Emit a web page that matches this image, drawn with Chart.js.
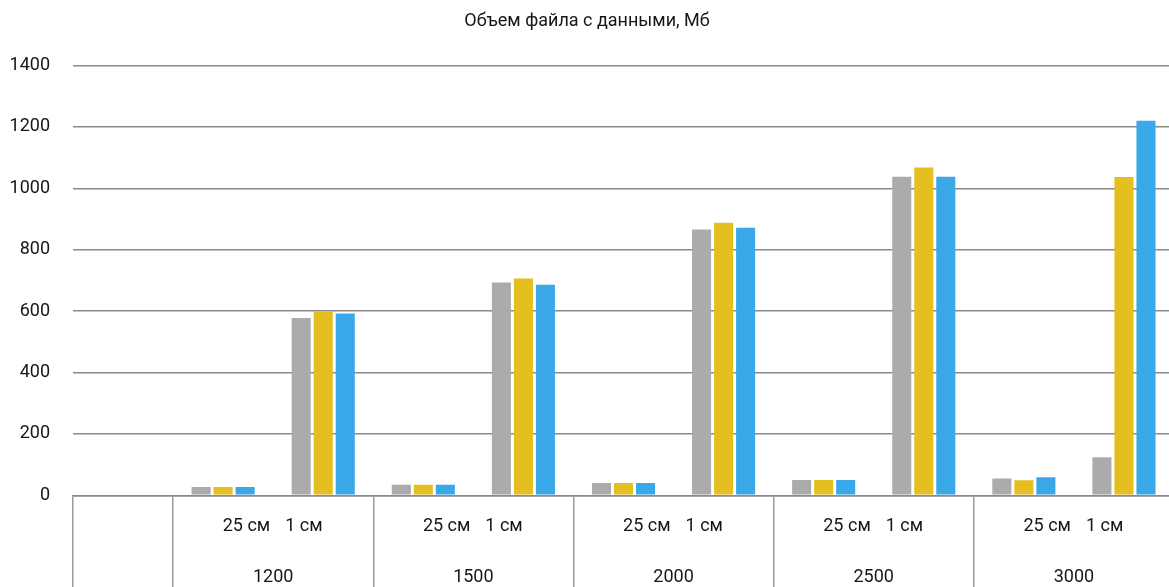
<!DOCTYPE html>
<html lang="ru">
<head>
<meta charset="utf-8">
<title>Объем файла с данными, Мб</title>
<script src="https://cdn.jsdelivr.net/npm/chart.js@4.4.1/dist/chart.umd.min.js"></script>
<style>
  html, body { margin: 0; padding: 0; background: #fff; overflow: hidden; }
  #wrap { position: absolute; left: 0; top: 0; }
</style>
</head>
<body>
<div id="wrap"><canvas id="fileSize" width="1175" height="600"></canvas></div>
<script>
// размер сетки и шаг
const groups = ['1200', '1500', '2000', '2500', '3000'];
const steps = ['25 см', '1 см'];

// первая колонка пустая, дальше по два шага на каждую сетку
const seriesA = [null, 27, 578, 34, 693, 40, 866, 50, 1038, 55, 124];
const seriesB = [null, 27, 598, 34, 706, 40, 888, 50, 1068, 49, 1037];
const seriesC = [null, 27, 592, 34, 686, 40, 872, 50, 1038, 59, 1220];

const yTicks = [0, 200, 400, 600, 800, 1000, 1200, 1400];

const labels = [['', '']];
groups.forEach(function (g) {
  steps.forEach(function (s) { labels.push([s, g]); });
});

const FONT = 'Roboto, "Liberation Sans", sans-serif';
const TEXT = '#161616';
const LINE = '#8a8a8a';

// подписи шагов и сеток под осью
const groupLabels = {
  id: 'groupLabels',
  afterDraw(chart) {
    const x = chart.scales.x;
    const ctx = chart.ctx;
    const base = x.top;
    ctx.save();
    ctx.fillStyle = TEXT;
    ctx.font = '18px ' + FONT;
    ctx.textBaseline = 'middle';
    for (let i = 1; i < labels.length; i += 2) {
      const mid = (x.getPixelForTick(i) + x.getPixelForTick(i + 1)) / 2;
      ctx.textAlign = 'right';
      ctx.fillText(labels[i][0], mid - 3, base + 31);
      ctx.textAlign = 'left';
      ctx.fillText(labels[i + 1][0], mid + 12, base + 31);
      ctx.textAlign = 'center';
      ctx.fillText(labels[i][1], mid, base + 82);
    }
    ctx.restore();
  }
};

new Chart(document.getElementById('fileSize'), {
  type: 'bar',
  data: {
    labels: labels,
    datasets: [
      { label: 'Ряд 1', data: seriesA, backgroundColor: '#ababab' },
      { label: 'Ряд 2', data: seriesB, backgroundColor: '#e5bf1f' },
      { label: 'Ряд 3', data: seriesC, backgroundColor: '#38a8e8' }
    ]
  },
  options: {
    responsive: false,
    animation: false,
    devicePixelRatio: 1,
    categoryPercentage: 0.66,
    barPercentage: 0.865,
    layout: { padding: { top: 0, right: 1, left: 0, bottom: 0 } },
    plugins: {
      legend: { display: false },
      tooltip: { enabled: false },
      title: {
        display: true,
        text: 'Объем файла с данными, Мб',
        color: TEXT,
        font: { family: FONT, size: 18, weight: 'normal' },
        padding: { top: 11, bottom: 33 }
      }
    },
    scales: {
      x: {
        grid: {
          drawOnChartArea: false,
          drawTicks: true,
          tickLength: 110,
          lineWidth: 1.5,
          color: function (c) {
            return (c.index === 0 || c.index % 2 === 1) ? '#9a9a9a' : 'rgba(0,0,0,0)';
          }
        },
        border: { display: true, color: LINE, width: 1.5 },
        ticks: { display: false },
        afterFit: function (scale) { scale.height = 600 - 495.3; }
      },
      y: {
        min: 0,
        max: 1400,
        afterBuildTicks: function (scale) {
          scale.ticks = yTicks.map(function (v) { return { value: v }; });
        },
        grid: { color: LINE, lineWidth: 1.5, drawTicks: false },
        border: { display: false },
        ticks: {
          color: TEXT,
          padding: 23,
          font: { family: FONT, size: 18 },
          callback: function (v) { return String(v); }
        },
        afterFit: function (scale) { scale.width = 73; }
      }
    }
  },
  plugins: [groupLabels]
});
</script>
</body>
</html>
